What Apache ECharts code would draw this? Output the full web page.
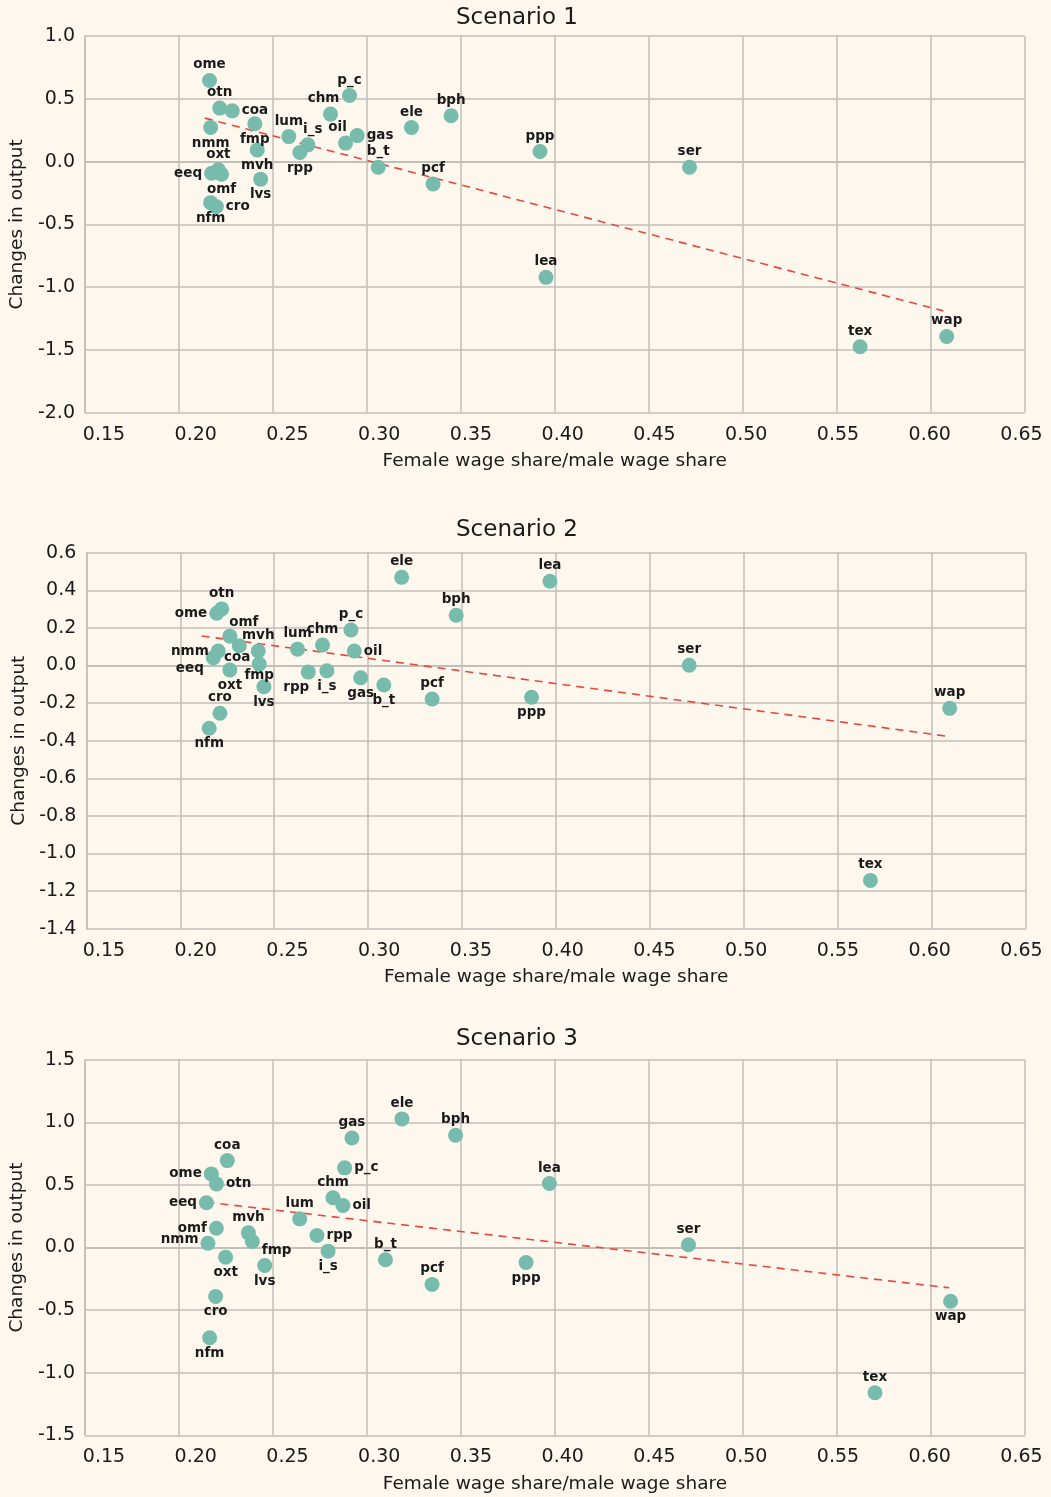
<!DOCTYPE html>
<html><head><meta charset="utf-8">
<script src="https://cdn.jsdelivr.net/npm/echarts@6/dist/echarts.min.js"></script>
<style>html,body{margin:0;padding:0;background:#fdf7ee}#c{width:1051px;height:1497px}</style>
</head><body><div id="c"></div>
<script>
// ---------- DATA ----------
const titles = ['Scenario 1', 'Scenario 2', 'Scenario 3'];
const xAxisTitle = 'Female wage share/male wage share';
const yAxisTitle = 'Changes in output';

const sectors = ['ome','otn','coa','nmm','fmp','mvh','lvs','lum','i_s','rpp','chm','p_c','oil','gas','b_t','ele','pcf','oxt','eeq','omf','cro','nfm','bph','ppp','ser','lea','tex','wap'];

const wageRatio1 = [0.2163,0.2217,0.2284,0.2169,0.2404,0.2417,0.2435,0.2585,0.2686,0.2644,0.2807,0.2908,0.2887,0.2949,0.3061,0.3238,0.3353,0.2210,0.2174,0.2227,0.2199,0.2169,0.3449,0.3922,0.4718,0.3954,0.5626,0.6087];
const output1    = [0.646,0.426,0.404,0.271,0.301,0.093,-0.140,0.199,0.133,0.072,0.378,0.526,0.147,0.207,-0.045,0.271,-0.178,-0.066,-0.093,-0.101,-0.359,-0.327,0.365,0.080,-0.045,-0.922,-1.475,-1.393];

const wageRatio2 = [0.2194,0.2220,0.2314,0.2202,0.2420,0.2415,0.2445,0.2624,0.2780,0.2681,0.2757,0.2908,0.2926,0.2960,0.3083,0.3178,0.3340,0.2264,0.2176,0.2264,0.2211,0.2154,0.3468,0.3869,0.4708,0.3967,0.5672,0.6094];
const output2    = [0.278,0.301,0.105,0.077,0.008,0.077,-0.113,0.087,-0.028,-0.035,0.109,0.189,0.077,-0.065,-0.104,0.469,-0.178,-0.024,0.041,0.156,-0.254,-0.334,0.267,-0.169,0.001,0.448,-1.143,-0.228];

const wageRatio3 = [0.2172,0.2199,0.2257,0.2154,0.2390,0.2369,0.2456,0.2642,0.2793,0.2734,0.2819,0.2881,0.2872,0.2920,0.3098,0.3186,0.3346,0.2248,0.2146,0.2199,0.2195,0.2163,0.3471,0.3846,0.4710,0.3970,0.5702,0.6104];
const output3    = [0.588,0.508,0.694,0.034,0.048,0.117,-0.144,0.229,-0.029,0.096,0.397,0.636,0.335,0.875,-0.098,1.027,-0.295,-0.077,0.357,0.154,-0.391,-0.721,0.896,-0.120,0.022,0.511,-1.160,-0.429];

// linear trend end points
const trendX1 = [0.2138, 0.6069], trendY1 = [0.346, -1.189];
const trendX2 = [0.2114, 0.6094], trendY2 = [0.157, -0.378];
const trendX3 = [0.2146, 0.6097], trendY3 = [0.362, -0.322];

const xTicks = [0.15,0.20,0.25,0.30,0.35,0.40,0.45,0.50,0.55,0.60,0.65];

// ---------- STYLE / LAYOUT ----------
const pos1 = {ome:'top',otn:'top',coa:'right',nmm:'bottom',fmp:'bottom',mvh:'bottom',lvs:'bottom',lum:'top',i_s:'top',rpp:'bottom',chm:'top',p_c:'top',oil:'top',gas:'right',b_t:'top',ele:'top',pcf:'top',oxt:'top',eeq:'left',omf:'bottom',cro:'right',nfm:'bottom',bph:'top',ppp:'top',ser:'top',lea:'top',tex:'top',wap:'top'};
const off1 = {oil:[-8,0], i_s:[5,0], chm:[-7,0]};
const pos2 = {ome:'left',otn:'top',coa:'bottom',nmm:'left',fmp:'bottom',mvh:'top',lvs:'bottom',lum:'top',i_s:'bottom',rpp:'bottom',chm:'top',p_c:'top',oil:'right',gas:'bottom',b_t:'bottom',ele:'top',pcf:'top',oxt:'bottom',eeq:'left',omf:'top',cro:'top',nfm:'bottom',bph:'top',ppp:'bottom',ser:'top',lea:'top',tex:'top',wap:'top'};
const off2 = {eeq:[0,11], omf:[14,2], rpp:[-12,0], coa:[-2,-4], fmp:[0,-4]};
const pos3 = {ome:'left',otn:'right',coa:'top',nmm:'left',fmp:'right',mvh:'top',lvs:'bottom',lum:'top',i_s:'bottom',rpp:'right',chm:'top',p_c:'right',oil:'right',gas:'top',b_t:'top',ele:'top',pcf:'top',oxt:'bottom',eeq:'left',omf:'left',cro:'bottom',nfm:'bottom',bph:'top',ppp:'bottom',ser:'top',lea:'top',tex:'top',wap:'bottom'};
const off3 = {fmp:[0,9], nmm:[0,-4]};

const FONT = 'DejaVu Sans';
const TXT = '#1a1a1a';
const GRIDC = '#c2beb8';
const DOT = '#77bbad';
const RED = '#e8473b';

const panels = [
  {grid:{left:84.3, top:36, width:940, height:376.7}, y:{min:-2, max:1, interval:0.5}, xs:wageRatio1, ys:output1, tx:trendX1, ty:trendY1, pos:pos1, off:off1, yGap:52, titleTop:7},
  {grid:{left:86.3, top:552.7, width:939.7, height:376}, y:{min:-1.4, max:0.6, interval:0.2}, xs:wageRatio2, ys:output2, tx:trendX2, ty:trendY2, pos:pos2, off:off2, yGap:51, titleTop:519},
  {grid:{left:85, top:1059.7, width:940, height:375.6}, y:{min:-1.5, max:1.5, interval:0.5}, xs:wageRatio3, ys:output3, tx:trendX3, ty:trendY3, pos:pos3, off:off3, yGap:51.5, titleTop:1028}
];

const option = {
  animation:false,
  backgroundColor:'#fdf7ee',
  title:[], grid:[], xAxis:[], yAxis:[], series:[]
};

panels.forEach((p, i) => {
  option.title.push({text:titles[i], left:456, top:p.titleTop, padding:0,
    textStyle:{fontFamily:FONT, fontSize:23, fontWeight:'normal', color:TXT}});
  option.grid.push(Object.assign({containLabel:false}, p.grid));
  option.xAxis.push({type:'value', gridIndex:i, min:xTicks[0], max:xTicks[xTicks.length-1], interval:0.05,
    name:xAxisTitle, nameLocation:'middle', nameGap:39,
    nameTextStyle:{fontFamily:FONT, fontSize:18.5, color:TXT},
    axisLine:{show:true, lineStyle:{color:GRIDC, width:2}}, axisTick:{show:false},
    axisLabel:{show:false},
    splitLine:{show:true, lineStyle:{color:GRIDC, width:1.5}}});
  option.yAxis.push({type:'value', gridIndex:i, min:p.y.min, max:p.y.max, interval:p.y.interval,
    name:yAxisTitle, nameLocation:'middle', nameGap:p.yGap,
    nameTextStyle:{fontFamily:FONT, fontSize:18.5, color:TXT},
    axisLine:{show:true, lineStyle:{color:GRIDC, width:1.5}}, axisTick:{show:false},
    axisLabel:{margin:10, fontFamily:FONT, fontSize:19, color:TXT, formatter:v=>v.toFixed(1)},
    splitLine:{show:true, lineStyle:{color:GRIDC, width:1.5}}});
});
// label-only axes (tick labels spread slightly narrower than the grid, as in the reference)
panels.forEach((p, i) => {
  option.grid.push({left:104, width:917.5, top:p.grid.top, height:p.grid.height});
  option.xAxis.push({type:'value', gridIndex:3+i, min:xTicks[0], max:xTicks[xTicks.length-1], interval:0.05,
    axisLine:{show:false}, axisTick:{show:false}, splitLine:{show:false},
    axisLabel:{margin:12.5, fontFamily:FONT, fontSize:19, color:TXT, formatter:v=>v.toFixed(2)}});
  option.yAxis.push({type:'value', gridIndex:3+i, min:p.y.min, max:p.y.max, show:false});
});
// series
panels.forEach((p, i) => {
  option.series.push({type:'line', xAxisIndex:i, yAxisIndex:i, z:2, symbol:'none', silent:true,
    data:[[p.tx[0], p.ty[0]], [p.tx[1], p.ty[1]]],
    lineStyle:{color:RED, width:1.6, type:[8,6]}});
  option.series.push({type:'scatter', xAxisIndex:i, yAxisIndex:i, z:3, symbolSize:15,
    itemStyle:{color:DOT, opacity:1},
    label:{show:true, formatter:'{b}', fontFamily:FONT, fontWeight:'bold', fontSize:13.5, color:TXT, distance:1},
    data:sectors.map((s, k) => ({name:s, value:[p.xs[k], p.ys[k]],
      label:{position:p.pos[s] || 'top', offset:p.off[s] || [0,0], distance:(p.pos[s]==='left'||p.pos[s]==='right')?2:1}}))});
});

const chart = echarts.init(document.getElementById('c'), null, {renderer:'canvas'});
chart.setOption(option);
</script>
</body></html>
